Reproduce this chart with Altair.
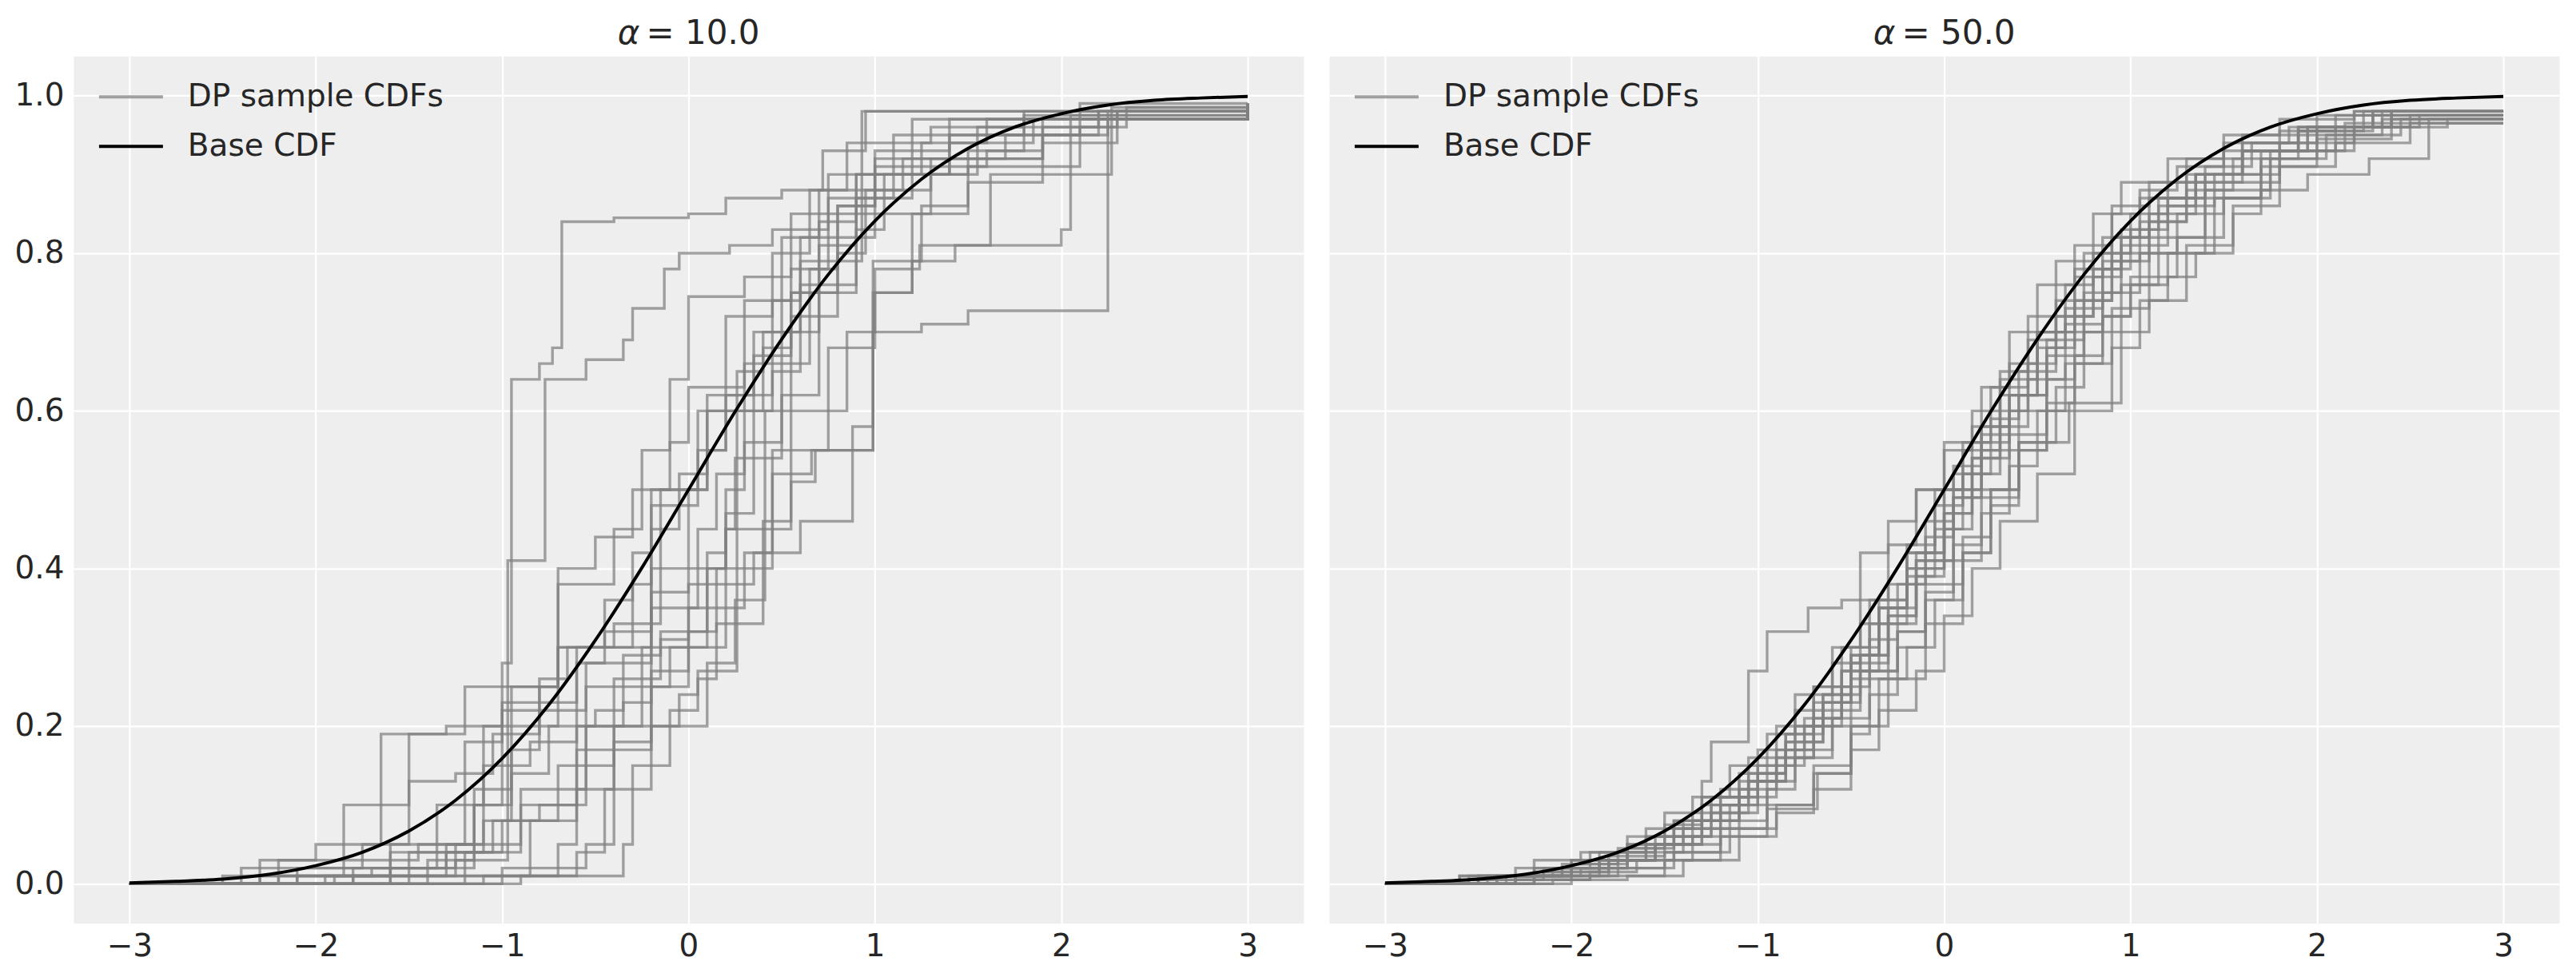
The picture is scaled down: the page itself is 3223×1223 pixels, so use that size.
import altair as alt
import pandas as pd

# ---------------- data ----------------
TITLE_SYMBOL = "α"
TITLE_VALUES = ["= 10.0", "= 50.0"]
LEGEND_LABELS = ["DP sample CDFs", "Base CDF"]
X_TICKS = [-3, -2, -1, 0, 1, 2, 3]
Y_TICKS = [0.0, 0.2, 0.4, 0.6, 0.8, 1.0]

BASE_X = [-3.0, -2.75, -2.5, -2.25, -2.0, -1.75, -1.5, -1.25, -1.0, -0.75, -0.5, -0.25,
          0.0, 0.25, 0.5, 0.75, 1.0, 1.25, 1.5, 1.75, 2.0, 2.25, 2.5, 2.75, 3.0]
BASE_Y = [0.001, 0.003, 0.006, 0.012, 0.023, 0.040, 0.067, 0.106, 0.159, 0.227, 0.309, 0.401,
          0.500, 0.599, 0.691, 0.773, 0.841, 0.894, 0.933, 0.960, 0.977, 0.988, 0.994, 0.997, 0.999]

# step points (x where the step starts, value after the step); alpha = 10
ALPHA10_SAMPLES = [
    [[-3, 0], [-1.6, .02], [-1.15, .1], [-1.0, .28], [-0.95, .64], [-0.8, .66], [-0.73, .68], [-0.68, .84], [-0.4, .845], [0, .85], [0.2, .87], [0.5, .88], [0.72, .93], [0.95, .98], [3, .99]],
    [[-3, 0], [-1.8, .01], [-1.4, .03], [-0.97, .41], [-0.77, .64], [-0.55, .665], [-0.35, .69], [-0.3, .73], [-0.13, .78], [-0.05, .80], [0.22, .81], [0.45, .83], [0.75, .87], [1.2, .97], [3, .985]],
    [[-3, 0], [-1.0, .02], [-0.55, .05], [-0.4, .2], [0.1, .28], [0.25, .36], [0.4, .46], [0.55, .51], [0.68, .55], [0.99, .7], [1.25, .71], [1.5, .727], [2.25, .97], [3, .975]],
    [[-3, 0], [-1.5, .01], [-0.7, .05], [-0.6, .17], [-0.2, .27], [0.0, .35], [0.3, .42], [0.45, .55], [0.75, .68], [1.0, .75], [1.2, .79], [1.43, .81], [2.0, .83], [2.05, .975], [3, .98]],
    [[-3, 0], [-2.2, .01], [-1.3, .04], [-0.9, .1], [-0.55, .25], [-0.1, .3], [0.2, .45], [0.55, .6], [0.85, .7], [1.0, .78], [1.24, .81], [1.62, .9], [2.27, .985], [3, .99]],
    [[-3, 0], [-1.6, .05], [-1.35, .1], [-1.1, .2], [-0.7, .3], [-0.2, .5], [0.1, .6], [0.4, .7], [0.6, .79], [0.93, .98], [3, .99]],
    [[-3, 0], [-1.2, .01], [-0.6, .04], [-0.45, .12], [-0.2, .2], [-0.05, .24], [0.05, .27], [0.26, .65], [0.4, .68], [0.55, .75], [0.7, .84], [0.9, .9], [1.25, .94], [1.6, .97], [3, .98]],
    [[-3, 0], [-1.1, .01], [-0.35, .05], [-0.3, .15], [-0.1, .22], [0.05, .26], [0.15, .33], [0.4, .36], [0.41, .6], [0.5, .66], [0.65, .78], [0.8, .86], [1.0, .92], [1.9, .96], [2.3, .98], [3, .985]],
    [[-3, 0], [-1.9, .01], [-1.25, .05], [-0.9, .12], [-0.55, .2], [-0.25, .3], [0.1, .38], [0.35, .42], [0.6, .46], [0.88, .58], [0.99, .75], [1.2, .85], [1.5, .91], [2.1, .96], [2.35, .985], [3, .99]],
    [[-3, 0], [-2.1, .02], [-1.6, .04], [-1.0, .08], [-0.7, .15], [-0.4, .26], [-0.15, .32], [0.15, .4], [0.45, .52], [0.66, .55], [0.99, .79], [1.25, .86], [1.5, .89], [1.9, .94], [2.3, .98], [3, .985]],
    [[-3, 0], [-2.4, .02], [-1.75, .05], [-1.5, .19], [-1.2, .25], [-0.7, .38], [-0.4, .45], [-0.25, .55], [-0.1, .64], [0.0, .745], [0.3, .77], [0.55, .85], [0.75, .9], [1.1, .95], [1.8, .97], [3, .98]],
    [[-3, 0], [-2.3, .03], [-2.0, .05], [-1.65, .19], [-1.3, .2], [-1.0, .23], [-0.6, .3], [-0.3, .42], [-0.2, .48], [0.05, .6], [0.2, .72], [0.45, .8], [0.65, .88], [0.85, .94], [1.3, .96], [1.8, .98], [3, .985]],
    [[-3, 0], [-0.9, .01], [-0.85, .08], [-0.6, .12], [-0.4, .18], [-0.2, .25], [0.0, .32], [0.1, .4], [0.2, .45], [0.25, .54], [0.5, .62], [0.7, .75], [0.9, .83], [1.05, .9], [1.5, .93], [1.9, .95], [2.1, .99], [3, .99]],
    [[-3, 0], [-1.95, .01], [-1.5, .04], [-1.1, .08], [-0.95, .25], [-0.7, .3], [-0.4, .33], [-0.15, .5], [0.05, .55], [0.2, .62], [0.35, .7], [0.5, .82], [0.7, .88], [1.0, .93], [1.4, .97], [3, .98]],
    [[-3, 0], [-1.8, .02], [-1.35, .05], [-1.15, .12], [-0.95, .17], [-0.8, .22], [-0.55, .28], [-0.2, .35], [0.05, .45], [0.15, .52], [0.3, .62], [0.45, .74], [0.6, .82], [0.8, .86], [1.0, .91], [1.6, .93], [1.8, .975], [3, .98]],
    [[-3, 0], [-2.2, .03], [-1.85, .1], [-1.5, .13], [-1.25, .14], [-1.05, .19], [-0.8, .25], [-0.7, .4], [-0.5, .44], [-0.3, .5], [-0.1, .56], [0.0, .63], [0.3, .74], [0.55, .78], [0.75, .85], [1.3, .9], [1.55, .96], [2.2, .98], [3, .99]],
    [[-3, 0], [-1.4, .01], [-1.2, .04], [-1.05, .08], [-0.8, .1], [-0.6, .2], [-0.35, .23], [-0.2, .4], [0.0, .5], [0.1, .55], [0.2, .6], [0.35, .67], [0.55, .72], [0.8, .8], [0.95, .88], [1.15, .92], [1.7, .95], [2.2, .98], [3, .985]],
    [[-3, 0], [-2.1, .01], [-1.7, .02], [-1.3, .05], [-1.1, .15], [-0.85, .18], [-0.6, .28], [-0.45, .32], [-0.2, .37], [0.0, .4], [0.2, .47], [0.35, .6], [0.45, .65], [0.6, .76], [0.9, .87], [1.1, .9], [1.4, .94], [1.85, .97], [3, .975]],
    [[-3, 0], [-2.5, .01], [-1.85, .03], [-1.45, .05], [-1.2, .18], [-1.0, .22], [-0.8, .26], [-0.65, .3], [-0.45, .36], [-0.3, .38], [-0.2, .45], [-0.05, .52], [0.1, .62], [0.3, .66], [0.5, .7], [0.7, .81], [0.9, .9], [1.4, .95], [2.25, .98], [3, .985]],
    [[-3, 0], [-2.3, .01], [-1.6, .02], [-1.25, .03], [-1.15, .1], [-0.95, .14], [-0.75, .2], [-0.5, .22], [-0.35, .29], [-0.15, .31], [0.0, .38], [0.1, .42], [0.2, .5], [0.3, .56], [0.5, .6], [0.55, .75], [0.8, .82], [1.0, .88], [1.3, .92], [1.9, .97], [3, .98]],
]

# alpha = 50
ALPHA50_SAMPLES = [
    [[-3, 0], [-2.6, .01], [-2.2, .03], [-1.95, .04], [-1.7, .06], [-1.5, .09], [-1.3, .13], [-1.25, .18], [-1.05, .27], [-0.95, .32], [-0.73, .35], [-0.55, .36], [-0.45, .42], [-0.3, .46], [-0.15, .5], [0, .55], [0.15, .6], [0.3, .64], [0.5, .7], [0.7, .78], [0.9, .82], [1.1, .87], [1.35, .9], [1.6, .94], [1.9, .96], [2.3, .98]],
    [[-3, 0], [-2.3, .005], [-1.9, .01], [-1.5, .03], [-1.2, .06], [-0.95, .095], [-0.68, .14], [-0.5, .2], [-0.35, .26], [-0.2, .3], [-0.05, .36], [0.1, .42], [0.25, .48], [0.4, .55], [0.55, .61], [0.7, .67], [0.85, .72], [1.0, .76], [1.2, .8], [1.45, .87], [1.7, .92], [2.0, .95], [2.35, .97]],
    [[-3, 0], [-2.4, .01], [-2.0, .02], [-1.7, .05], [-1.45, .08], [-1.2, .12], [-1.0, .17], [-0.8, .22], [-0.6, .28], [-0.45, .33], [-0.3, .38], [-0.1, .46], [0.05, .53], [0.2, .58], [0.35, .66], [0.5, .7], [0.65, .76], [0.8, .8], [1.0, .85], [1.2, .89], [1.5, .93], [1.8, .955], [2.1, .975]],
    [[-3, 0], [-2.2, .01], [-1.8, .02], [-1.5, .04], [-1.2, .07], [-0.9, .1], [-0.7, .15], [-0.5, .2], [-0.3, .26], [-0.1, .33], [0.1, .42], [0.25, .5], [0.4, .56], [0.67, .61], [0.95, .7], [1.1, .74], [1.2, .77], [1.35, .8], [1.55, .85], [1.7, .88], [1.95, .9], [2.28, .92], [2.6, .97]],
    [[-3, 0], [-2.5, .01], [-2.1, .02], [-1.8, .03], [-1.55, .05], [-1.35, .08], [-1.1, .13], [-0.9, .17], [-0.75, .21], [-0.55, .27], [-0.4, .33], [-0.2, .4], [0, .47], [0.15, .54], [0.3, .6], [0.45, .66], [0.6, .72], [0.8, .78], [0.95, .83], [1.15, .87], [1.4, .91], [1.65, .94], [2.0, .96], [2.5, .975]],
    [[-3, 0], [-2.3, .01], [-2.0, .03], [-1.6, .06], [-1.3, .1], [-1.1, .14], [-0.85, .19], [-0.7, .25], [-0.5, .3], [-0.35, .36], [-0.2, .43], [-0.05, .5], [0.1, .56], [0.25, .63], [0.45, .69], [0.6, .74], [0.75, .8], [0.9, .85], [1.05, .88], [1.25, .91], [1.5, .94], [1.85, .96], [2.2, .98]],
    [[-3, 0], [-2.0, .01], [-1.75, .02], [-1.45, .04], [-1.15, .07], [-0.95, .1], [-0.7, .14], [-0.5, .19], [-0.4, .24], [-0.25, .3], [-0.1, .36], [0.05, .41], [0.2, .47], [0.35, .53], [0.5, .6], [0.65, .66], [0.85, .72], [1.0, .77], [1.25, .82], [1.5, .87], [1.75, .92], [2.05, .95], [2.45, .97]],
    [[-3, 0], [-2.5, .01], [-2.2, .02], [-1.9, .04], [-1.6, .07], [-1.35, .11], [-1.15, .15], [-0.95, .19], [-0.8, .24], [-0.6, .3], [-0.45, .36], [-0.3, .43], [-0.15, .5], [0, .56], [0.2, .63], [0.35, .7], [0.5, .76], [0.7, .81], [0.9, .86], [1.1, .89], [1.3, .92], [1.6, .95], [2.0, .975]],
    [[-3, 0], [-2.6, .005], [-2.2, .015], [-1.85, .03], [-1.6, .05], [-1.4, .08], [-1.2, .11], [-1.0, .15], [-0.8, .2], [-0.65, .24], [-0.45, .29], [-0.3, .34], [-0.15, .41], [0.05, .49], [0.2, .55], [0.4, .62], [0.55, .69], [0.75, .75], [0.95, .81], [1.2, .86], [1.45, .9], [1.8, .94], [2.2, .96], [2.7, .97]],
    [[-3, 0], [-2.4, .01], [-2.05, .02], [-1.8, .035], [-1.5, .06], [-1.25, .09], [-1.0, .14], [-0.85, .18], [-0.65, .23], [-0.5, .28], [-0.3, .35], [-0.15, .42], [0, .5], [0.2, .57], [0.35, .62], [0.55, .68], [0.7, .74], [0.9, .79], [1.1, .84], [1.3, .88], [1.55, .92], [1.9, .955], [2.3, .975]],
    [[-3, 0], [-2.3, .01], [-1.95, .02], [-1.7, .04], [-1.4, .07], [-1.15, .1], [-0.95, .15], [-0.75, .2], [-0.55, .27], [-0.35, .35], [-0.2, .42], [0, .5], [0.15, .58], [0.3, .65], [0.45, .72], [0.6, .79], [0.8, .85], [0.95, .89], [1.2, .92], [1.5, .95], [1.8, .97], [2.2, .98]],
    [[-3, 0], [-2.1, .005], [-1.7, .01], [-1.4, .03], [-1.1, .06], [-0.9, .09], [-0.7, .12], [-0.5, .17], [-0.35, .22], [-0.15, .27], [0, .34], [0.15, .4], [0.3, .46], [0.5, .52], [0.7, .6], [0.9, .68], [1.05, .74], [1.3, .81], [1.55, .86], [1.8, .91], [2.1, .94], [2.5, .965]],
    [[-3, 0], [-2.55, .01], [-2.15, .02], [-1.85, .04], [-1.55, .06], [-1.25, .1], [-1.05, .13], [-0.85, .17], [-0.7, .23], [-0.5, .29], [-0.35, .35], [-0.2, .39], [-0.05, .45], [0.1, .52], [0.3, .58], [0.45, .64], [0.65, .71], [0.85, .78], [1.0, .83], [1.2, .87], [1.4, .9], [1.7, .93], [2.1, .96], [2.4, .98]],
    [[-3, 0], [-2.2, .005], [-1.9, .015], [-1.65, .03], [-1.35, .06], [-1.1, .11], [-0.9, .16], [-0.7, .21], [-0.55, .25], [-0.4, .31], [-0.25, .38], [-0.1, .44], [0.05, .52], [0.25, .59], [0.4, .65], [0.6, .72], [0.8, .77], [0.95, .82], [1.15, .86], [1.35, .9], [1.6, .93], [1.95, .96], [2.35, .98]],
    [[-3, 0], [-2.45, .01], [-2.0, .025], [-1.7, .045], [-1.45, .07], [-1.2, .1], [-1.0, .13], [-0.8, .17], [-0.6, .22], [-0.45, .27], [-0.25, .32], [-0.1, .38], [0.1, .44], [0.25, .5], [0.4, .56], [0.6, .63], [0.75, .7], [0.95, .76], [1.15, .82], [1.4, .87], [1.7, .91], [2.0, .945], [2.4, .97]],
    [[-3, 0], [-2.35, .01], [-2.05, .025], [-1.75, .045], [-1.5, .075], [-1.3, .11], [-1.05, .16], [-0.9, .2], [-0.7, .25], [-0.55, .3], [-0.4, .36], [-0.2, .42], [-0.05, .48], [0.1, .55], [0.3, .62], [0.5, .7], [0.7, .77], [0.85, .82], [1.05, .87], [1.3, .9], [1.6, .93], [1.9, .955], [2.25, .98]],
    [[-3, 0], [-2.5, .005], [-2.15, .015], [-1.8, .03], [-1.55, .05], [-1.3, .08], [-1.1, .12], [-0.9, .16], [-0.7, .2], [-0.5, .26], [-0.3, .33], [-0.15, .39], [0, .45], [0.15, .5], [0.35, .57], [0.55, .64], [0.7, .7], [0.85, .75], [1.05, .8], [1.25, .85], [1.5, .89], [1.8, .93], [2.2, .96], [2.55, .975]],
    [[-3, 0], [-2.2, .01], [-1.85, .03], [-1.55, .05], [-1.3, .09], [-1.05, .13], [-0.85, .18], [-0.65, .23], [-0.45, .29], [-0.3, .34], [-0.15, .41], [0.05, .49], [0.2, .56], [0.35, .6], [0.55, .67], [0.75, .74], [0.9, .8], [1.1, .85], [1.35, .9], [1.6, .93], [1.9, .96], [2.3, .98]],
    [[-3, 0], [-2.3, .01], [-2.0, .02], [-1.75, .03], [-1.45, .05], [-1.2, .08], [-0.95, .12], [-0.8, .16], [-0.6, .21], [-0.4, .27], [-0.25, .32], [-0.1, .37], [0.05, .43], [0.2, .49], [0.4, .55], [0.55, .6], [0.7, .66], [0.9, .73], [1.1, .8], [1.4, .88], [1.75, .93], [2.15, .965]],
    [[-3, 0], [-2.6, .01], [-2.3, .02], [-2.0, .03], [-1.7, .05], [-1.45, .08], [-1.25, .11], [-1.05, .14], [-0.85, .19], [-0.65, .24], [-0.5, .29], [-0.35, .35], [-0.2, .4], [0, .47], [0.15, .54], [0.35, .62], [0.5, .68], [0.65, .73], [0.85, .79], [1.05, .84], [1.3, .89], [1.6, .93], [1.95, .96], [2.4, .98]],
]

# ---------------- build tables ----------------
def sample_table(samples):
    rows = []
    for i, pts in enumerate(samples):
        for x, y in pts:
            rows.append({"line": i, "x": x, "y": y, "kind": LEGEND_LABELS[0]})
        if pts[-1][0] < 3:
            rows.append({"line": i, "x": 3, "y": pts[-1][1], "kind": LEGEND_LABELS[0]})
    return pd.DataFrame(rows)

base_df = pd.DataFrame({"x": BASE_X, "y": BASE_Y, "kind": LEGEND_LABELS[1]})

FONT = "DejaVu Sans"
TEXT = "#262626"
W, H = 1540, 1086

color_scale = alt.Scale(domain=LEGEND_LABELS, range=["rgba(128,128,128,0.72)", "#000000"])
x_scale = alt.Scale(domain=[-3.3, 3.3], nice=False, zero=False)
y_scale = alt.Scale(domain=[-0.05, 1.05], nice=False, zero=False)


def panel(samples, value_text, show_y):
    xenc = alt.X("x:Q", scale=x_scale,
                 axis=alt.Axis(values=X_TICKS, format="d", title=None, labelPadding=10))
    yenc = alt.Y("y:Q", scale=y_scale,
                 axis=alt.Axis(values=Y_TICKS, format=".1f", title=None,
                               labels=show_y, labelPadding=12))
    legend = alt.Legend(title=None, orient="none", legendX=30, legendY=9,
                        symbolType="stroke", symbolSize=6400, symbolStrokeWidth=4,
                        labelFontSize=39, labelFont=FONT, labelColor=TEXT,
                        labelOffset=29, rowPadding=-8, padding=0,
                        labelLimit=0)
    color = alt.Color("kind:N", scale=color_scale, legend=legend,
                      sort=LEGEND_LABELS)
    gray = alt.Chart(sample_table(samples)).mark_line(
        interpolate="step-after", strokeWidth=3.4
    ).encode(x=xenc, y=yenc, detail="line:N", color=color)
    black = alt.Chart(base_df).mark_line(
        interpolate="monotone", strokeWidth=4
    ).encode(x=xenc, y=yenc, color=color)
    # panel title: italic alpha followed by upright "= value"
    t_sym = alt.Chart(pd.DataFrame({"t": [TITLE_SYMBOL]})).mark_text(
        font=FONT, fontSize=42, fontStyle="italic", color=TEXT,
        align="center", baseline="alphabetic"
    ).encode(text="t:N", x=alt.value(695), y=alt.value(-15))
    t_val = alt.Chart(pd.DataFrame({"t": [value_text]})).mark_text(
        font=FONT, fontSize=42, color=TEXT,
        align="left", baseline="alphabetic"
    ).encode(text="t:N", x=alt.value(717), y=alt.value(-15))
    return alt.layer(gray, black, t_sym, t_val).properties(width=W, height=H)


left = panel(ALPHA10_SAMPLES, TITLE_VALUES[0], True)
right = panel(ALPHA50_SAMPLES, TITLE_VALUES[1], False)

chart = alt.hconcat(left, right, spacing=32, bounds="flush").resolve_scale(
    color="independent"
).resolve_legend(color="independent").properties(
    padding={"left": 17, "top": 20, "right": 20, "bottom": 5},
    background="white",
).configure_view(
    fill="#eeeeee", stroke="transparent"
).configure_axis(
    grid=True, gridColor="#ffffff", gridWidth=2.2, gridOpacity=1,
    domain=False, ticks=False,
    labelFont=FONT, labelFontSize=39, labelColor=TEXT,
)

chart.save("out.html", embed_options={"renderer": "svg", "actions": False})
